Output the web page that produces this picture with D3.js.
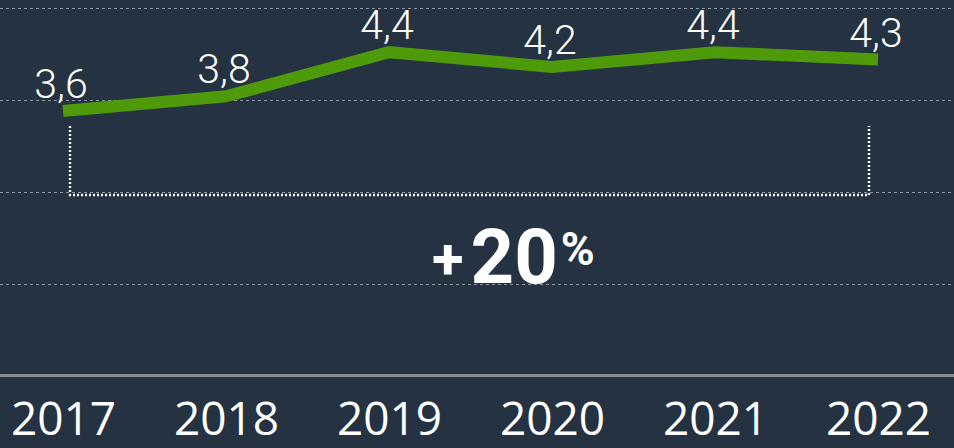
<!DOCTYPE html>
<html><head><meta charset="utf-8">
<script src="https://cdn.jsdelivr.net/npm/d3@7"></script>
<style>html,body{margin:0;padding:0;background:#243242;}svg{display:block;}</style>
</head><body>
<svg id="c" width="954" height="448"></svg>
<script>
const years = ["2017","2018","2019","2020","2021","2022"];
const values = [3.6, 3.8, 4.4, 4.2, 4.4, 4.3];
const labels = ["3,6","3,8","4,4","4,2","4,4","4,3"];
const gridTicks = [1.25, 2.5, 3.75, 5];
const changeSign = "+";
const changeValue = "20";
const changeUnit = "%";

const W = 954, H = 448;
const svg = d3.select("#c");
svg.append("rect").attr("width", W).attr("height", H).attr("fill", "#243242");

const x = d3.scalePoint().domain(years).range([63, 878]);
const y = d3.scaleLinear().domain([0, 5]).range([376, 8]);

// gridlines
svg.append("g").selectAll("line").data(gridTicks).join("line")
  .attr("x1", 0).attr("x2", W)
  .attr("y1", d => Math.round(y(d)) + 0.5).attr("y2", d => Math.round(y(d)) + 0.5)
  .attr("stroke", "#8e96a0").attr("stroke-width", 1.2).attr("stroke-dasharray", "3,3");

// axis line
svg.append("line").attr("x1", 0).attr("x2", W).attr("y1", 375.5).attr("y2", 375.5)
  .attr("stroke", "#8c8c8c").attr("stroke-width", 3);

// x labels
const xa = d3.axisBottom(x).tickSize(0).tickPadding(0);
const gx = svg.append("g").attr("transform", "translate(0,402)").call(xa);
gx.select(".domain").remove();
gx.selectAll("text").attr("fill", "#ffffff").attr("font-family", "'Open Sans', sans-serif")
  .attr("font-size", 46).attr("dy", "0.71em");

// bracket
const x0 = x(years[0]) + 7, x1 = x(years[years.length-1]) - 9;
const yb = 195, yt = y(values[0]) + 15;
svg.append("path")
  .attr("d", `M${x0},${yt}V${yb}H${x1}V${yt}`)
  .attr("fill", "none").attr("stroke", "#ffffff").attr("stroke-width", 2.4)
  .attr("stroke-dasharray", "2,2");

// line
const line = d3.line().x((d,i) => x(years[i])).y(d => y(d));
svg.append("path").datum(values).attr("d", line)
  .attr("fill", "none").attr("stroke", "#4f9a0a").attr("stroke-width", 12)
  .attr("stroke-linejoin", "miter").attr("stroke-linecap", "butt");

// value labels
svg.append("g").selectAll("text").data(values).join("text")
  .attr("x", (d,i) => x(years[i]) - 2)
  .attr("y", d => y(d) - 13)
  .attr("text-anchor", "middle")
  .attr("fill", "#ffffff")
  .attr("font-family", "Roboto, sans-serif").attr("font-weight", 300)
  .attr("font-size", 41)
  .text((d,i) => labels[i]);

// +20%
const t = svg.append("text").attr("x", 432).attr("y", 283)
  .attr("fill", "#ffffff").attr("font-family", "Roboto, sans-serif").attr("font-weight", 700);
t.append("tspan").attr("font-size", 58).attr("dy", -4).text(changeSign);
t.append("tspan").attr("font-size", 76).attr("dx", 7).attr("dy", 4).text(changeValue);
t.append("tspan").attr("font-size", 46).attr("dy", -18).attr("dx", 3).text(changeUnit);
</script>
</body></html>
